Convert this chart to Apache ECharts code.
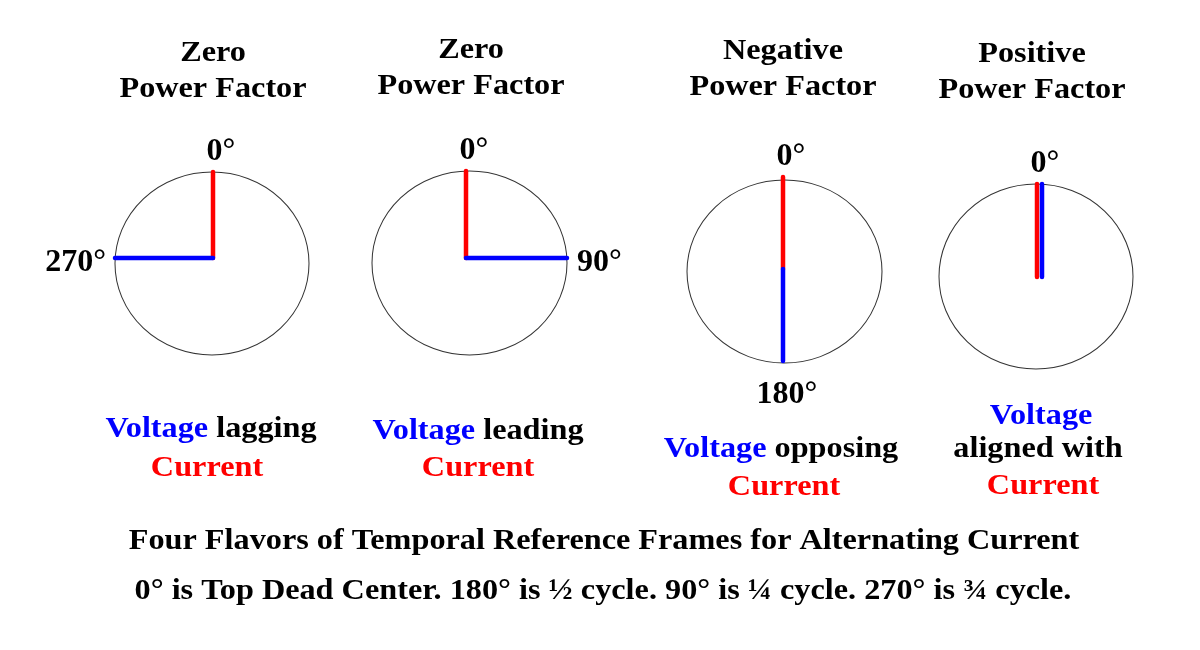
<!DOCTYPE html>
<html><head><meta charset="utf-8">
<script src="https://cdn.jsdelivr.net/npm/echarts@6/dist/echarts.min.js"></script>
<style>html,body{margin:0;background:#fff}#c{width:1200px;height:650px}</style>
</head><body><div id="c"></div>
<script>
// ---- data ----
const titleLine1 = ['Zero', 'Zero', 'Negative', 'Positive'];
const titleLine2 = ['Power Factor', 'Power Factor', 'Power Factor', 'Power Factor'];
const currentAngle = [0, 0, 0, 0];      // red vector, degrees clockwise from top
const voltageAngle = [270, 90, 180, 0]; // blue vector
const relation = ['lagging', 'leading', 'opposing', 'aligned with'];
const footer1 = 'Four Flavors of Temporal Reference Frames for Alternating Current';
const footer2 = '0\u00b0 is Top Dead Center. 180\u00b0 is \u00bd cycle. 90\u00b0 is \u00bc cycle. 270\u00b0 is \u00be cycle.';

// ---- layout / style ----
const FONT_FAMILY = '"Liberation Serif", "Times New Roman", serif';
const FS = 30;
const LFS = 32;
const SX = 1.075;
const RED = '#ff0000', BLUE = '#0000ff';
// outline ellipses (bounding boxes)
const boxes = [
  {l: 115, t: 172, w: 194, h: 183},
  {l: 372, t: 171, w: 195, h: 184},
  {l: 687, t: 180, w: 195, h: 183},
  {l: 939, t: 184, w: 194, h: 185}
];
// vector frames (origin and unit lengths in px)
const vecFrames = [
  {cx: 213, cy: 258, rx: 98, ry: 86},
  {cx: 466, cy: 258, rx: 101, ry: 87},
  {cx: 783, cy: 269, rx: 96, ry: 92},
  {cx: 1037, cy: 277, rx: 97, ry: 93}
];
const voltShift = [0, 0, 0, 5];
const titlePos = [
  {x: 213, y1: 53, y2: 89}, {x: 471, y1: 50, y2: 86},
  {x: 783, y1: 51, y2: 87}, {x: 1032, y1: 54, y2: 90}
];
const captionPos = [
  [{x: 211, y: 429}, {x: 207, y: 468}],
  [{x: 478, y: 431}, {x: 478, y: 468}],
  [{x: 781, y: 449}, {x: 784, y: 487}],
  [{x: 1041, y: 416}, {x: 1038, y: 449}, {x: 1043, y: 486}]
];
const footerPos = [{x: 604, y: 541}, {x: 603, y: 591}];
const labelPlacement = {
  0: {position: 'top', distance: 5, offset: [8, 1]},
  90: {position: 'right', distance: 10, offset: [0, 5]},
  180: {position: 'bottom', distance: 18, offset: [4, 0]},
  270: {position: 'left', distance: 9, offset: [0, 5]}
};

function endPoint(a) {
  const r = a * Math.PI / 180;
  return [+Math.sin(r).toFixed(6), +Math.cos(r).toFixed(6)];
}

const grids = [], xAxes = [], yAxes = [], series = [];
function addGrid(l, t, w, h) {
  grids.push({left: l, top: t, width: w, height: h, containLabel: false});
  const idx = grids.length - 1;
  xAxes.push({type: 'value', gridIndex: idx, min: -1, max: 1, show: false});
  yAxes.push({type: 'value', gridIndex: idx, min: -1, max: 1, show: false});
  return idx;
}
function vectorSeries(gi, angle, color, showLabel) {
  const pl = labelPlacement[angle];
  return {
    type: 'line', xAxisIndex: gi, yAxisIndex: gi, clip: false, silent: true,
    symbol: 'circle', symbolSize: 0, showSymbol: true,
    lineStyle: {color: color, width: 4.5, cap: 'round'},
    itemStyle: {color: color},
    label: {show: false},
    data: [
      {value: [0, 0]},
      {value: endPoint(angle), label: {
        show: showLabel, formatter: angle + '\u00b0', position: pl.position,
        distance: pl.distance, offset: pl.offset,
        fontFamily: FONT_FAMILY, fontWeight: 'bold', fontSize: LFS, color: '#000'
      }}
    ],
    z: color === BLUE ? 3 : 2
  };
}

for (let i = 0; i < 4; i++) {
  const b = boxes[i];
  const gi = addGrid(b.l, b.t, b.w, b.h);
  series.push({
    type: 'scatter', xAxisIndex: gi, yAxisIndex: gi, silent: true,
    symbol: 'circle', symbolSize: [b.w, b.h],
    itemStyle: {color: 'rgba(0,0,0,0)', borderColor: '#000', borderWidth: 1},
    data: [[0, 0]], z: 1
  });
  const f = vecFrames[i];
  const cg = addGrid(f.cx - f.rx, f.cy - f.ry, 2 * f.rx, 2 * f.ry);
  series.push(vectorSeries(cg, currentAngle[i], RED, true));
  const vg = voltShift[i] ? addGrid(f.cx - f.rx + voltShift[i], f.cy - f.ry, 2 * f.rx, 2 * f.ry) : cg;
  series.push(vectorSeries(vg, voltageAngle[i], BLUE, voltageAngle[i] !== currentAngle[i]));
}

const font = 'bold ' + FS + 'px ' + FONT_FAMILY;
const graphics = [];
function addText(x, y, text, rich) {
  const style = {text: text, font: font, fill: '#000', align: 'center', verticalAlign: 'middle'};
  if (rich) style.rich = rich;
  graphics.push({type: 'text', x: x, y: y, scaleX: SX, silent: true, style: style});
}
const rich = {
  v: {fill: BLUE, color: BLUE, font: font},
  k: {fill: '#000', color: '#000', font: font},
  c: {fill: RED, color: RED, font: font}
};
for (let i = 0; i < 4; i++) {
  addText(titlePos[i].x, titlePos[i].y1, titleLine1[i]);
  addText(titlePos[i].x, titlePos[i].y2, titleLine2[i]);
  const cp = captionPos[i];
  if (cp.length === 3) {
    addText(cp[0].x, cp[0].y, '{v|Voltage}', rich);
    addText(cp[1].x, cp[1].y, '{k|' + relation[i] + '}', rich);
    addText(cp[2].x, cp[2].y, '{c|Current}', rich);
  } else {
    addText(cp[0].x, cp[0].y, '{v|Voltage} {k|' + relation[i] + '}', rich);
    addText(cp[1].x, cp[1].y, '{c|Current}', rich);
  }
}
addText(footerPos[0].x, footerPos[0].y, footer1);
addText(footerPos[1].x, footerPos[1].y, footer2);

const chart = echarts.init(document.getElementById('c'), null, {renderer: 'canvas'});
chart.setOption({
  backgroundColor: '#fff',
  animation: false,
  grid: grids, xAxis: xAxes, yAxis: yAxes,
  series: series,
  graphic: graphics
});
</script></body></html>
